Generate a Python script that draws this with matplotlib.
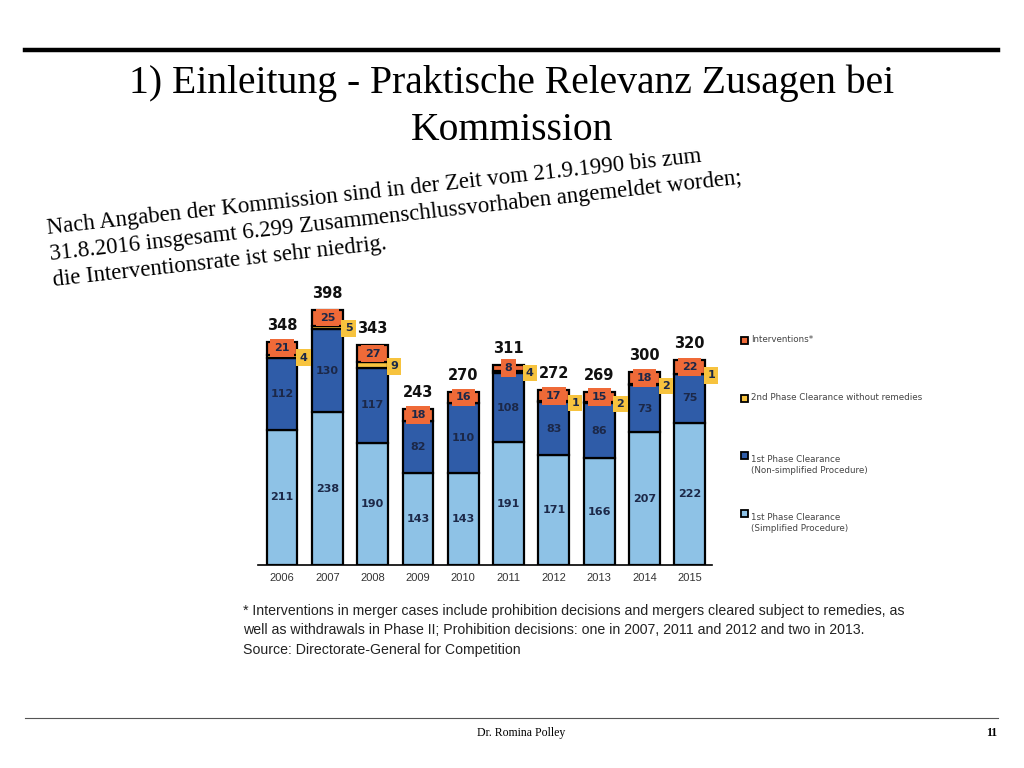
import matplotlib.pyplot as plt
import numpy as np
from matplotlib.patches import Rectangle

# Daten
years = ["2006", "2007", "2008", "2009", "2010", "2011", "2012", "2013", "2014", "2015"]
simplified = [211, 238, 190, 143, 143, 191, 171, 166, 207, 222]
non_simplified = [112, 130, 117, 82, 110, 108, 83, 86, 73, 75]
phase2_no_remedies = [4, 5, 9, 0, 0, 4, 1, 2, 2, 1]
interventions = [21, 25, 27, 18, 16, 8, 17, 15, 18, 22]
totals = [348, 398, 343, 243, 270, 311, 272, 269, 300, 320]

legend_labels = [
    "Interventions*",
    "2nd Phase Clearance without remedies",
    "1st Phase Clearance\n(Non-simplified Procedure)",
    "1st Phase Clearance\n(Simplified Procedure)",
]

C_LIGHT = "#8ec2e6"
C_DARK = "#2f5ca8"
C_YELLOW = "#f7c33e"
C_ORANGE = "#ef6a38"
C_TXT = "#1c2848"

W, H = 1024, 768


def fx(x):
    return x / W


def fy(y):
    return 1 - y / H


fig = plt.figure(figsize=(10.24, 7.68), dpi=100)
fig.patch.set_facecolor("white")

# Kopfzeile
fig.add_artist(plt.Line2D([fx(25), fx(998)], [fy(50), fy(50)], color="black", lw=3.2))
fig.text(fx(512), fy(107), "1) Einleitung - Praktische Relevanz Zusagen bei\nKommission",
         ha="center", va="center", fontsize=28.5, family="Liberation Serif",
         linespacing=1.37, multialignment="center")

fig.text(fx(46), fy(218),
         "Nach Angaben der Kommission sind in der Zeit vom 21.9.1990 bis zum\n"
         "31.8.2016 insgesamt 6.299 Zusammenschlussvorhaben angemeldet worden;\n"
         "die Interventionsrate ist sehr niedrig.",
         ha="left", va="top", rotation=6.3, rotation_mode="anchor",
         fontsize=16.5, family="Liberation Serif", linespacing=1.32)

# Balkendiagramm
ax = fig.add_axes([fx(258), fy(565), 454 / W, 276 / H])
x = np.arange(len(years))
bw = 0.68
s1 = np.array(simplified)
s2 = np.array(non_simplified)
s3 = np.array(phase2_no_remedies)
s4 = np.array(interventions)
ekw = dict(edgecolor="black", linewidth=1.6, width=bw)
ax.bar(x, s1, color=C_LIGHT, **ekw)
ax.bar(x, s2, bottom=s1, color=C_DARK, **ekw)
ax.bar(x, s3, bottom=s1 + s2, color=C_YELLOW, **ekw)
ax.bar(x, s4, bottom=s1 + s2 + s3, color=C_ORANGE, **ekw)

for i in range(len(years)):
    ax.text(x[i], s1[i] / 2, str(s1[i]), ha="center", va="center",
            fontsize=8, fontweight="bold", color=C_TXT)
    ax.text(x[i], s1[i] + s2[i] / 2, str(s2[i]), ha="center", va="center",
            fontsize=8, fontweight="bold", color=C_TXT)
    top3 = s1[i] + s2[i] + s3[i]
    ax.text(x[i], top3 + s4[i] / 2, str(s4[i]), ha="center", va="center",
            fontsize=8, fontweight="bold", color=C_TXT,
            bbox=dict(boxstyle="square,pad=0.35", fc=C_ORANGE, ec="none"))
    if s3[i] > 0:
        ax.text(x[i] + bw / 2 + 0.13, s1[i] + s2[i] + s3[i] / 2 - 2, str(s3[i]),
                ha="center", va="center", fontsize=8, fontweight="bold", color=C_TXT,
                bbox=dict(boxstyle="square,pad=0.3", fc=C_YELLOW, ec="none"))
    ax.text(x[i], totals[i] + 14, str(totals[i]), ha="center", va="bottom",
            fontsize=10.5, fontweight="bold", color="#111111")

ax.set_xlim(-0.53, 9.49)
ax.set_ylim(0, 430)
ax.set_xticks(x)
ax.set_xticklabels(years, fontsize=8, color="#333333", family="Liberation Sans")
ax.tick_params(axis="x", length=0, pad=6)
ax.set_yticks([])
for side in ["top", "right", "left"]:
    ax.spines[side].set_visible(False)
ax.spines["bottom"].set_linewidth(1.2)
ax.patch.set_alpha(0)

# Legende
leg_colors = [C_ORANGE, C_YELLOW, C_DARK, C_LIGHT]
leg_y = [340, 398, 455, 513]
for col, lab, ly in zip(leg_colors, legend_labels, leg_y):
    fig.add_artist(Rectangle((fx(741), fy(ly + 3.5)), 7 / W, 7 / H,
                             facecolor=col, edgecolor="black", lw=1.3))
    fig.text(fx(751), fy(ly), lab, ha="left", va="top" if "\n" in lab else "center",
             fontsize=6.3, color="#444444", family="DejaVu Sans", linespacing=1.3)

# Fussnote
fig.text(fx(243), fy(604),
         "* Interventions in merger cases include prohibition decisions and mergers cleared subject to remedies, as\n"
         "well as withdrawals in Phase II; Prohibition decisions: one in 2007, 2011 and 2012 and two in 2013.\n"
         "Source: Directorate-General for Competition",
         ha="left", va="top", fontsize=10.2, color="#222222",
         family="Liberation Sans", linespacing=1.5)

# Fusszeile
fig.add_artist(plt.Line2D([fx(25), fx(998)], [fy(718), fy(718)], color="#555555", lw=0.8))
fig.text(fx(521), fy(733), "Dr. Romina Polley", ha="center", va="center",
         fontsize=8.5, family="Liberation Serif")
fig.text(fx(992), fy(733), "11", ha="center", va="center",
         fontsize=8.5, fontweight="bold", family="Liberation Serif")

fig.savefig("out.png", dpi=100)
